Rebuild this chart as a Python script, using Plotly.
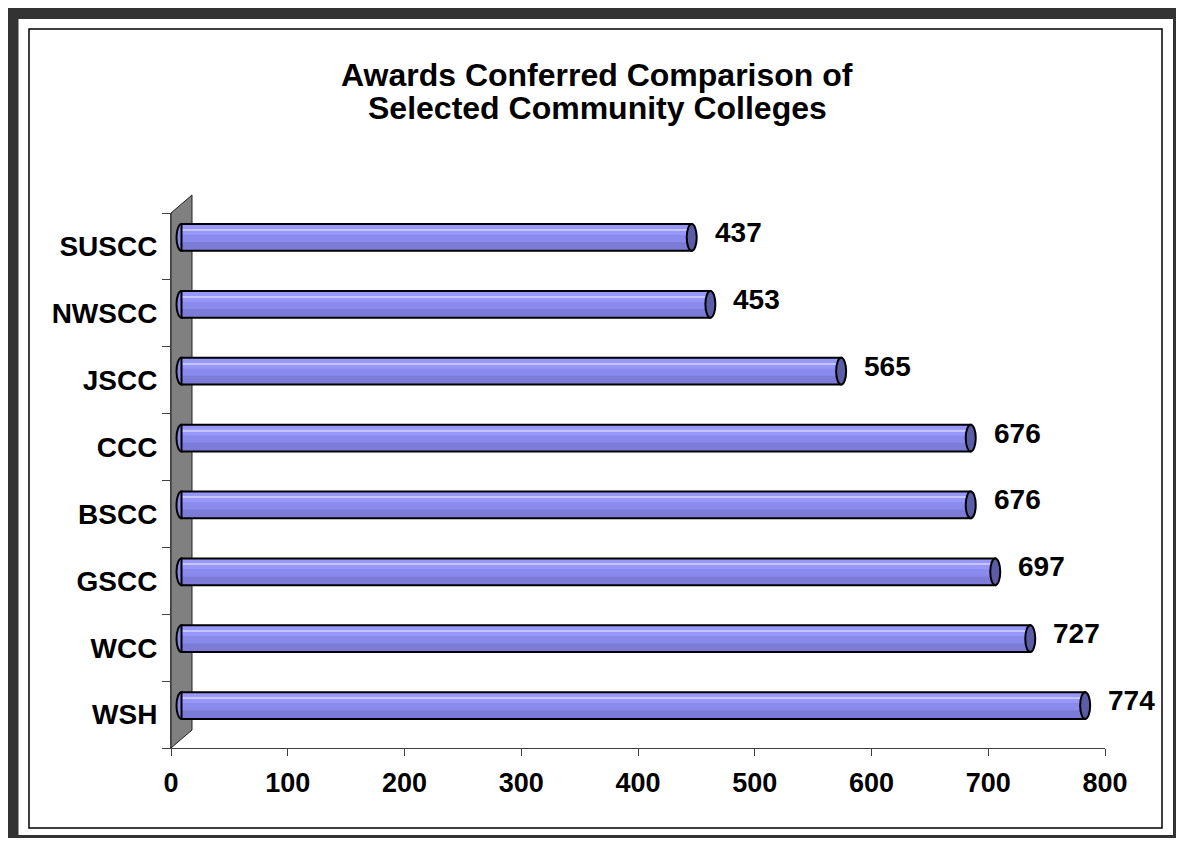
import plotly.graph_objects as go

# ---- data (top to bottom as shown) ----
colleges = ["SUSCC", "NWSCC", "JSCC", "CCC", "BSCC", "GSCC", "WCC", "WSH"]
awards = [437, 453, 565, 676, 676, 697, 727, 774]
x_ticks = [0, 100, 200, 300, 400, 500, 600, 700, 800]
title_lines = ["Awards Conferred Comparison of", "Selected Community Colleges"]

FONT = "Liberation Sans, Arial, sans-serif"
order = colleges[::-1]              # bottom -> top
idx = {c: i for i, c in enumerate(order)}

# figure geometry (px)
W, H = 1176, 830
L, R, T, B = 163, 79, 205, 90
PW, PH = W - L - R, H - T - B
DX, DY = 21, 18                      # 3-D depth in px
px_per_unit = PW / 800.0
cat_px = PH / len(colleges)

def px2paper_x(px):
    return (px - L) / PW

def px2paper_y(py):
    return (H - B - py) / PH

BAR_W = 0.40

fig = go.Figure()

# empty trace on main axes so they are drawn
fig.add_trace(go.Scatter(x=[None], y=[None], xaxis="x", yaxis="y", mode="markers",
                         hoverinfo="skip", showlegend=False))

# base fill
fig.add_trace(go.Bar(orientation="h", x=awards, y=colleges, xaxis="x2", yaxis="y2",
                     width=BAR_W, marker=dict(color="#8a8aec", line=dict(width=0)),
                     hoverinfo="skip", showlegend=False))
# lighter upper band
fig.add_trace(go.Bar(orientation="h", x=awards, y=colleges, xaxis="x2", yaxis="y2",
                     width=0.15, offset=0.04, marker=dict(color="#9898fc", line=dict(width=0)),
                     hoverinfo="skip", showlegend=False))
# highlight stripe
fig.add_trace(go.Bar(orientation="h", x=awards, y=colleges, xaxis="x2", yaxis="y2",
                     width=0.018, offset=0.105, marker=dict(color="#c4c4ff", line=dict(width=0)),
                     hoverinfo="skip", showlegend=False))
# darker lower band
fig.add_trace(go.Bar(orientation="h", x=awards, y=colleges, xaxis="x2", yaxis="y2",
                     width=0.12, offset=-0.19, marker=dict(color="#7c7cd8", line=dict(width=0)),
                     hoverinfo="skip", showlegend=False))
# outline
fig.add_trace(go.Bar(orientation="h", x=awards, y=colleges, xaxis="x2", yaxis="y2",
                     width=BAR_W, marker=dict(color="rgba(0,0,0,0)", line=dict(width=2, color="black")),
                     hoverinfo="skip", showlegend=False))

shapes = []
# dark outer frame
shapes.append(dict(type="rect", xref="paper", yref="paper", layer="above",
                   x0=px2paper_x(5), x1=px2paper_x(1170.5), y0=px2paper_y(832.5), y1=px2paper_y(5.5),
                   fillcolor="rgba(0,0,0,0)", line=dict(width=11, color="#333333")))
# thin black frame
shapes.append(dict(type="rect", xref="paper", yref="paper", layer="below",
                   x0=px2paper_x(21), x1=px2paper_x(1154), y0=px2paper_y(820), y1=px2paper_y(21),
                   fillcolor="rgba(0,0,0,0)", line=dict(width=1.5, color="black")))
# grey side wall
wx = DX / PW
wy = DY / PH
shapes.append(dict(type="path", xref="paper", yref="paper", layer="below",
                   path=f"M 0 0 L 0 1 L {wx} {1 + wy} L {wx} {wy} Z",
                   fillcolor="#808080", line=dict(width=1, color="#222222")))

half = 5.0 / px_per_unit
for c, v in zip(colleges, awards):
    i = idx[c]
    # left rounded end
    shapes.append(dict(type="circle", xref="x2", yref="y2", layer="below",
                       x0=-half, x1=half, y0=i - BAR_W / 2, y1=i + BAR_W / 2,
                       fillcolor="#8a8aec", line=dict(width=2, color="black")))
    # right end cap
    shapes.append(dict(type="circle", xref="x2", yref="y2", layer="above",
                       x0=v - half, x1=v + half, y0=i - BAR_W / 2, y1=i + BAR_W / 2,
                       fillcolor="#5c5ca6", line=dict(width=2, color="black")))

annotations = []
for c, v in zip(colleges, awards):
    annotations.append(dict(x=v, y=idx[c], xref="x2", yref="y2", text=str(v),
                            showarrow=False, xanchor="left", yanchor="middle",
                            xshift=21, yshift=5,
                            font=dict(family=FONT, size=28, color="black", weight="bold")))

# title lines
for text, cy in zip(title_lines, [67, 100]):
    annotations.append(dict(x=px2paper_x(589), y=px2paper_y(cy), xref="paper", yref="paper",
                            text=text, showarrow=False, xanchor="center", yanchor="middle",
                            font=dict(family=FONT, size=32, color="black", weight="bold")))

x_shift_units = (DX / 2) / px_per_unit
y_shift_units = (DY / 2) / cat_px

fig.update_layout(
    width=W, height=H,
    margin=dict(l=L, r=R, t=T, b=B, pad=0),
    paper_bgcolor="white",
    plot_bgcolor="rgba(0,0,0,0)",
    barmode="overlay",
    showlegend=False,
    xaxis=dict(range=[0, 800], tickvals=x_ticks, ticks="outside", ticklen=7, tickcolor="#404040",
               showline=True, linecolor="#404040", linewidth=1, showgrid=False, zeroline=False,
               tickfont=dict(family=FONT, size=27, color="black", weight="bold"),
               ticklabelstandoff=4, fixedrange=True),
    yaxis=dict(type="category", categoryorder="array", categoryarray=order,
               range=[-0.5, len(order) - 0.5], ticks="outside", tickson="boundaries", ticklen=8,
               tickcolor="#404040", showline=True, linecolor="#404040", linewidth=1,
               showgrid=False, zeroline=False,
               tickfont=dict(family=FONT, size=28, color="black", weight="bold"),
               ticklabelstandoff=7, fixedrange=True),
    xaxis2=dict(overlaying="x", anchor="y", range=[-x_shift_units, 800 - x_shift_units],
                visible=False, fixedrange=True),
    yaxis2=dict(overlaying="y", anchor="x", type="category", categoryorder="array",
                categoryarray=order,
                range=[-0.5 - y_shift_units, len(order) - 0.5 - y_shift_units],
                visible=False, fixedrange=True),
    shapes=shapes,
    annotations=annotations,
)

fig.write_html("out.html")
